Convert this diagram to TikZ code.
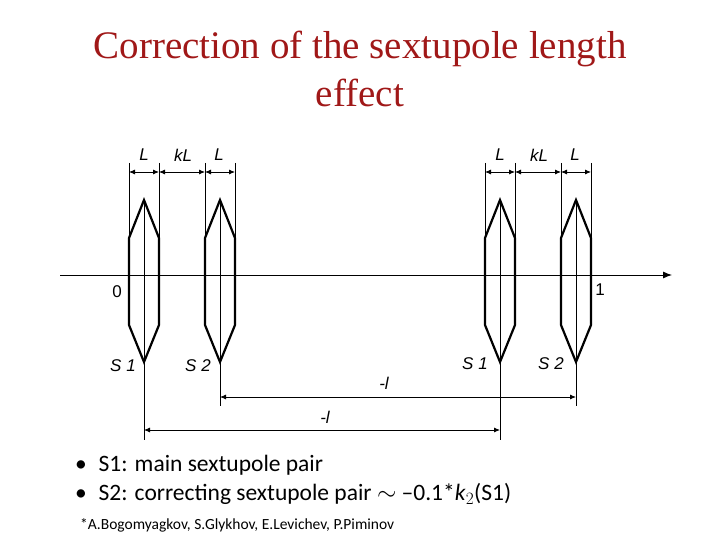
\documentclass[tikz,border=0pt]{standalone}
\usepackage{fontspec}
\setmainfont{Liberation Serif}
\newfontfamily\carl{Carlito}
\newfontfamily\arl{Liberation Sans}
\usetikzlibrary{arrows.meta}
\definecolor{ttl}{HTML}{A01818}
\begin{document}
\begin{tikzpicture}[x=1pt,y=-1pt,
  thinl/.style={line width=0.9pt,black},
  lens/.style={line width=2.2pt,black,line join=miter},
  dim/.style={line width=0.8pt,{Latex[length=6pt,width=5pt]}-{Latex[length=6pt,width=5pt]}},
  lab/.style={font=\arl\itshape\fontsize{17}{17}\selectfont,inner sep=0pt}]
\useasboundingbox (0,0) rectangle (720,540);
\node[text=ttl,font=\fontsize{39}{48}\selectfont,align=center] (title) at (360,69) {Correction of the sextupole length\\effect};
% axis
\coordinate (a0) at (60,275); \coordinate (a1) at (672,275);
\draw[thinl,-{Latex[length=9pt,width=7pt]}] (a0) -- (a1);
% lenses
\foreach \c/\n in {144/p,220/q,500/r,576/s}{
  \draw[lens] (\c-15,238) -- (\c,200) -- (\c+15,238) -- (\c+15,325) -- (\c,362) -- (\c-15,325) -- cycle;
  \coordinate (\n t) at (\c,200);
  \draw[thinl] (\c-15,163) -- (\c-15,325);
  \draw[thinl] (\c+15,163) -- (\c+15,325);
}
\draw[thinl] (144,200) -- (144,440);
\draw[thinl] (220,200) -- (220,406);
\draw[thinl] (500,200) -- (500,440);
\draw[thinl] (576,200) -- (576,406);
% top dims
\foreach \o in {0,356}{
  \draw[dim] (129+\o,172) -- (159+\o,172);
  \draw[dim] (159+\o,172) -- (205+\o,172);
  \draw[dim] (205+\o,172) -- (235+\o,172);
  \node[lab] at (144+\o,155) {L};
  \node[lab] at (183+\o,155) {kL};
  \node[lab] at (219+\o,155) {L};
}
\coordinate (d1) at (220,397); \coordinate (d2) at (576,397);
\draw[dim] (d1) -- (d2);
\coordinate (e1) at (144,430); \coordinate (e2) at (500,430);
\draw[dim] (e1) -- (e2);
\node[lab] (l1) at (384,383) {-\textit{l}};
\node[lab] (l2) at (325,417) {-\textit{l}};
\node[lab] (z) at (117,292) {\upshape 0};
\node[lab] (o) at (600,290) {\upshape 1};
\node[lab] at (123,366) {S 1};
\node[lab] at (198,366) {S 2};
\node[lab] at (475,364) {S 1};
\node[lab] at (551,364) {S 2};
% bullets
\node[anchor=west,font=\carl\fontsize{23.5}{29}\selectfont,align=left,inner sep=0pt] (b) at (75,480)
 {•\enspace S1: main sextupole pair\\•\enspace S2: correcting sextupole pair $\sim$ –0.1*\textit{k}$_2$(S1)};
\node[anchor=west,font=\carl\fontsize{15.5}{17}\selectfont,inner sep=0pt] (f) at (80,525) {*A.Bogomyagkov, S.Glykhov, E.Levichev, P.Piminov};
\end{tikzpicture}
\end{document}
